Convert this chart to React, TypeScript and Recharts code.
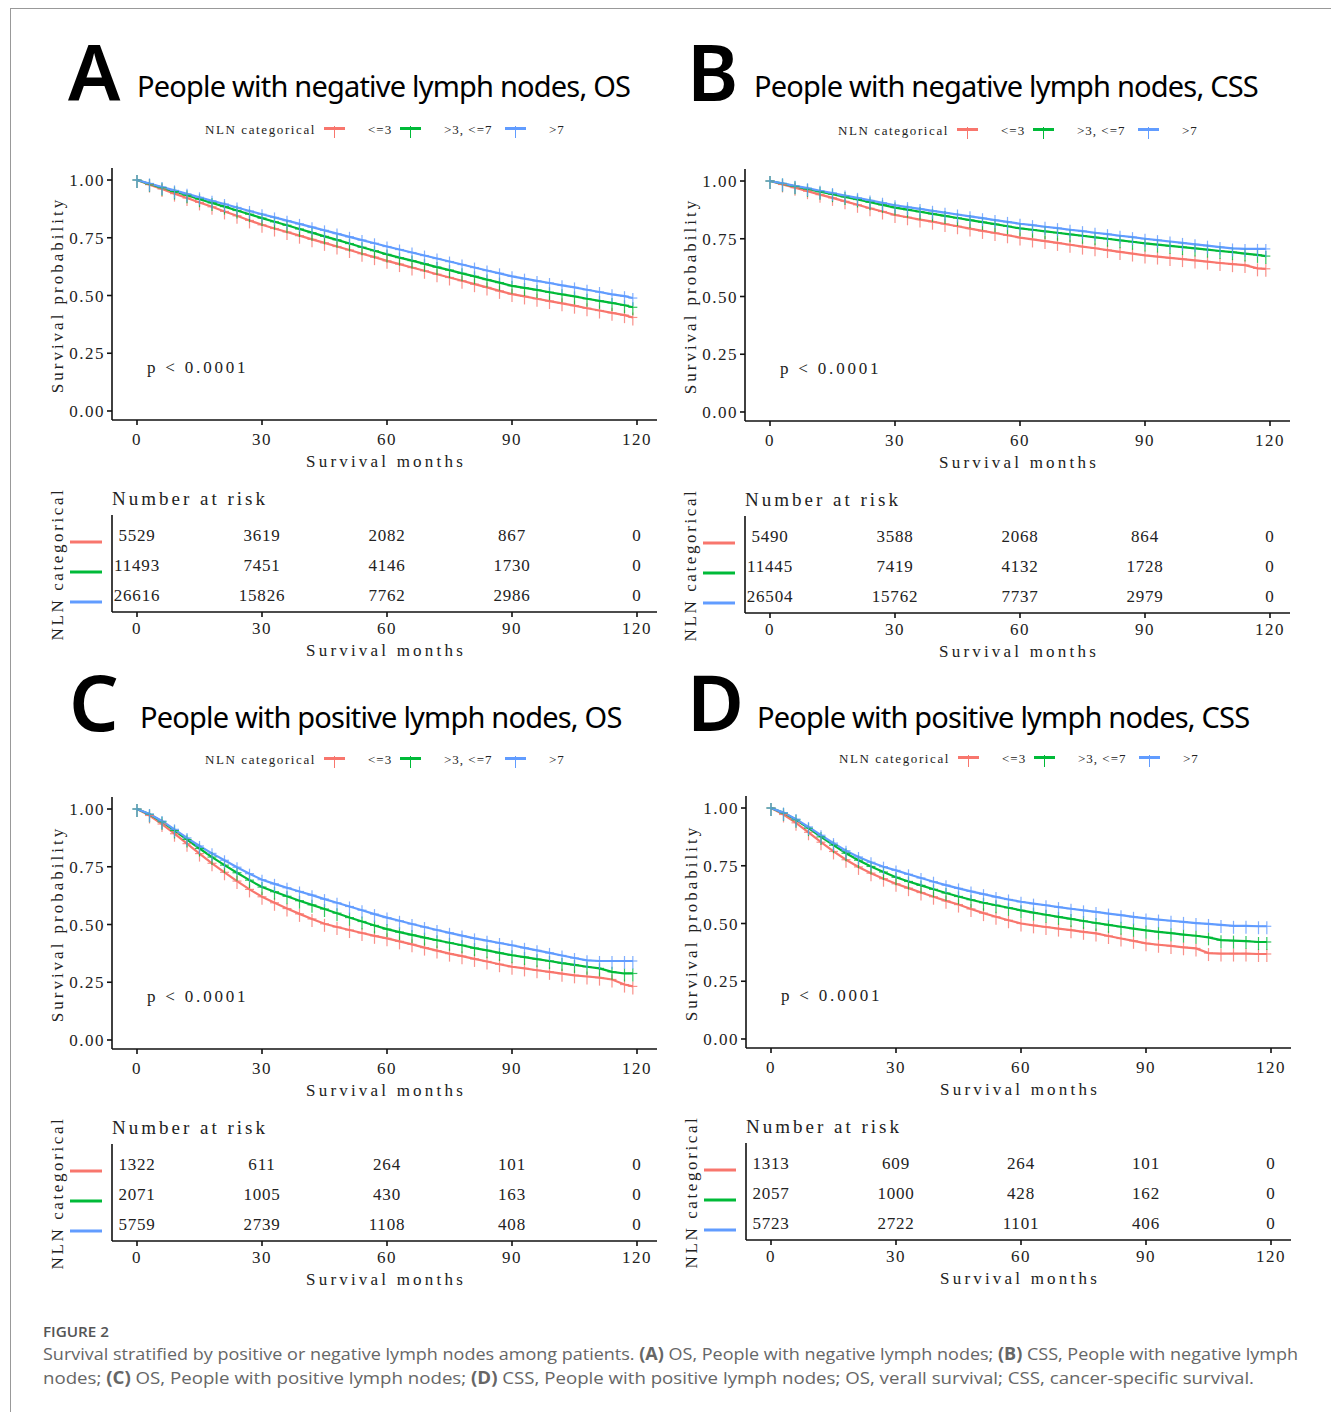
import React from 'react';
import { LineChart, Line, XAxis, YAxis, ScatterChart, Scatter } from 'recharts';

const months = [0, 3, 6, 9, 12, 15, 18, 21, 24, 27, 30, 33, 36, 39, 42, 45, 48, 51, 54, 57, 60, 63, 66, 69, 72, 75, 78, 81, 84, 87, 90, 93, 96, 99, 102, 105, 108, 111, 114, 117, 119];

const groups = ['<=3', '>3, <=7', '>7'];
const colors = ['#F8766D', '#00BA38', '#619CFF'];
const xTicks = [0, 30, 60, 90, 120];
const yTicks = [0, 0.25, 0.5, 0.75, 1];

// A: negative lymph nodes, OS
const aRed = [1.000, 0.980, 0.961, 0.941, 0.922, 0.903, 0.884, 0.864, 0.845, 0.825, 0.806, 0.790, 0.775, 0.759, 0.743, 0.728, 0.712, 0.697, 0.681, 0.666, 0.650, 0.636, 0.621, 0.607, 0.592, 0.578, 0.564, 0.549, 0.535, 0.520, 0.506, 0.496, 0.486, 0.476, 0.466, 0.456, 0.445, 0.435, 0.425, 0.415, 0.405];
const aGreen = [1.000, 0.983, 0.967, 0.950, 0.934, 0.917, 0.901, 0.885, 0.868, 0.852, 0.835, 0.819, 0.804, 0.788, 0.772, 0.756, 0.741, 0.725, 0.709, 0.694, 0.678, 0.664, 0.651, 0.637, 0.623, 0.610, 0.596, 0.583, 0.569, 0.556, 0.542, 0.533, 0.524, 0.514, 0.505, 0.496, 0.486, 0.477, 0.468, 0.458, 0.449];
const aBlue = [1.000, 0.985, 0.970, 0.955, 0.940, 0.925, 0.910, 0.896, 0.881, 0.866, 0.852, 0.838, 0.824, 0.810, 0.796, 0.782, 0.768, 0.754, 0.740, 0.726, 0.712, 0.699, 0.686, 0.673, 0.660, 0.647, 0.634, 0.621, 0.608, 0.596, 0.583, 0.573, 0.563, 0.554, 0.544, 0.535, 0.525, 0.515, 0.505, 0.497, 0.489];

// B: negative lymph nodes, CSS
const bRed = [1.000, 0.985, 0.971, 0.956, 0.941, 0.927, 0.912, 0.897, 0.882, 0.868, 0.853, 0.843, 0.833, 0.824, 0.814, 0.804, 0.794, 0.784, 0.775, 0.765, 0.755, 0.747, 0.740, 0.732, 0.724, 0.716, 0.709, 0.701, 0.693, 0.686, 0.678, 0.673, 0.667, 0.662, 0.656, 0.651, 0.645, 0.640, 0.636, 0.622, 0.620];
const bGreen = [1.000, 0.989, 0.977, 0.966, 0.954, 0.943, 0.931, 0.920, 0.908, 0.897, 0.885, 0.876, 0.867, 0.858, 0.849, 0.840, 0.831, 0.822, 0.813, 0.804, 0.795, 0.789, 0.782, 0.776, 0.769, 0.763, 0.756, 0.750, 0.743, 0.737, 0.730, 0.725, 0.719, 0.714, 0.708, 0.703, 0.697, 0.692, 0.686, 0.680, 0.675];
const bBlue = [1.000, 0.990, 0.979, 0.969, 0.958, 0.948, 0.937, 0.927, 0.916, 0.906, 0.895, 0.887, 0.879, 0.871, 0.863, 0.855, 0.847, 0.839, 0.831, 0.823, 0.815, 0.809, 0.802, 0.796, 0.789, 0.783, 0.776, 0.770, 0.763, 0.757, 0.750, 0.744, 0.738, 0.732, 0.726, 0.720, 0.714, 0.708, 0.706, 0.706, 0.706];

// C: positive lymph nodes, OS
const cRed = [1.000, 0.972, 0.935, 0.893, 0.850, 0.807, 0.765, 0.726, 0.688, 0.652, 0.620, 0.594, 0.569, 0.546, 0.524, 0.503, 0.489, 0.476, 0.463, 0.451, 0.440, 0.427, 0.414, 0.400, 0.387, 0.374, 0.363, 0.351, 0.340, 0.328, 0.317, 0.310, 0.302, 0.295, 0.287, 0.280, 0.275, 0.270, 0.262, 0.240, 0.232];
const cGreen = [1.000, 0.977, 0.945, 0.907, 0.868, 0.829, 0.792, 0.757, 0.724, 0.692, 0.662, 0.642, 0.622, 0.603, 0.585, 0.567, 0.549, 0.530, 0.513, 0.496, 0.480, 0.467, 0.455, 0.443, 0.432, 0.421, 0.410, 0.398, 0.388, 0.377, 0.367, 0.359, 0.350, 0.342, 0.333, 0.325, 0.317, 0.310, 0.295, 0.288, 0.288];
const cBlue = [1.000, 0.978, 0.948, 0.912, 0.875, 0.840, 0.808, 0.778, 0.748, 0.720, 0.694, 0.676, 0.659, 0.643, 0.627, 0.610, 0.594, 0.578, 0.562, 0.545, 0.530, 0.516, 0.502, 0.489, 0.476, 0.464, 0.452, 0.440, 0.430, 0.420, 0.410, 0.399, 0.388, 0.377, 0.366, 0.355, 0.345, 0.342, 0.342, 0.342, 0.342];

// D: positive lymph nodes, CSS
const dRed = [1.000, 0.972, 0.936, 0.895, 0.852, 0.812, 0.776, 0.745, 0.718, 0.694, 0.672, 0.653, 0.634, 0.616, 0.598, 0.582, 0.563, 0.545, 0.529, 0.514, 0.500, 0.492, 0.485, 0.478, 0.471, 0.464, 0.457, 0.446, 0.435, 0.425, 0.414, 0.408, 0.403, 0.397, 0.392, 0.372, 0.370, 0.370, 0.370, 0.368, 0.368];
const dGreen = [1.000, 0.979, 0.949, 0.913, 0.875, 0.839, 0.804, 0.774, 0.747, 0.723, 0.700, 0.682, 0.665, 0.648, 0.632, 0.617, 0.603, 0.590, 0.579, 0.568, 0.557, 0.547, 0.538, 0.529, 0.520, 0.511, 0.502, 0.494, 0.486, 0.478, 0.470, 0.464, 0.458, 0.452, 0.447, 0.440, 0.428, 0.426, 0.424, 0.420, 0.420];
const dBlue = [1.000, 0.980, 0.952, 0.918, 0.882, 0.848, 0.815, 0.788, 0.765, 0.746, 0.730, 0.713, 0.697, 0.681, 0.666, 0.652, 0.639, 0.627, 0.615, 0.604, 0.594, 0.586, 0.579, 0.571, 0.564, 0.557, 0.550, 0.543, 0.536, 0.529, 0.522, 0.517, 0.512, 0.507, 0.502, 0.498, 0.494, 0.490, 0.490, 0.488, 0.488];

// number at risk at 0/30/60/90/120 months, one row per group
const riskA = [[5529, 3619, 2082, 867, 0], [11493, 7451, 4146, 1730, 0], [26616, 15826, 7762, 2986, 0]];
const riskB = [[5490, 3588, 2068, 864, 0], [11445, 7419, 4132, 1728, 0], [26504, 15762, 7737, 2979, 0]];
const riskC = [[1322, 611, 264, 101, 0], [2071, 1005, 430, 163, 0], [5759, 2739, 1108, 408, 0]];
const riskD = [[1313, 609, 264, 101, 0], [2057, 1000, 428, 162, 0], [5723, 2722, 1101, 406, 0]];

const serif = "'Liberation Serif', 'DejaVu Serif', serif";
const sans = "'Noto Sans', 'Open Sans', sans-serif";
const ink = '#222';

const panels = [
  { id: 'A', title: 'People with negative lymph nodes, OS', dx: 0, dy: 0, lx: 68, ly: 101, tx: 137, ty: 97, legY: 134, curves: [aRed, aGreen, aBlue], risk: riskA },
  { id: 'B', title: 'People with negative lymph nodes, CSS', dx: 633, dy: 1, lx: 54, ly: 100, tx: 121, ty: 96, legY: 134, curves: [bRed, bGreen, bBlue], risk: riskB },
  { id: 'C', title: 'People with positive lymph nodes, OS', dx: 0, dy: 629, lx: 69, ly: 102, tx: 140, ty: 99, legY: 135, curves: [cRed, cGreen, cBlue], risk: riskC },
  { id: 'D', title: 'People with positive lymph nodes, CSS', dx: 634, dy: 628, lx: 53, ly: 103, tx: 123, ty: 100, legY: 135, curves: [dRed, dGreen, dBlue], risk: riskD },
];

const legendKeyX = [324, 400, 505];
const legendTextX = [368, 444, 549];

const censorDot = (color: string) => (props: any) => {
  const { cx, cy, index } = props;
  if (cx == null || cy == null) return <g key={`e${index}`} />;
  return (
    <g key={`c${index}`} stroke={color} strokeWidth={1.2} opacity={0.8}>
      <line x1={cx - 4.5} y1={cy} x2={cx + 4.5} y2={cy} />
      <line x1={cx} y1={cy - 5} x2={cx} y2={cy + 8} />
    </g>
  );
};

const riskTick = (props: any) => {
  const { x, y, payload } = props;
  return <line x1={x - 42} x2={x - 10} y1={y + 7} y2={y + 7} stroke={colors[payload.value]} strokeWidth={3} />;
};

const riskNumber = (props: any) => {
  const { cx, cy, payload } = props;
  return (
    <text x={cx} y={cy} dy="0.35em" textAnchor="middle" fontFamily={serif} fontSize={17} letterSpacing={0.8} fill={ink}>
      {payload.n}
    </text>
  );
};

const axisTick = { fontSize: 17, fill: ink, fontFamily: serif, letterSpacing: 1.5 };

const Panel = ({ cfg }: { cfg: any }) => {
  const data = months.map((t, i) => ({ t, s0: cfg.curves[0][i], s1: cfg.curves[1][i], s2: cfg.curves[2][i] }));
  const riskPts = cfg.risk.flatMap((row: number[], r: number) => row.map((n, j) => ({ t: xTicks[j], row: r, n })));

  return (
    <div style={{ position: 'absolute', left: cfg.dx, top: cfg.dy, width: 665, height: 670 }}>
      <svg width={665} height={670} style={{ position: 'absolute', left: 0, top: 0 }}>
        <text x={cfg.lx} y={cfg.ly} fontFamily={sans} fontWeight={600} fontSize={78} fill="#000">{cfg.id}</text>
        <text x={cfg.tx} y={cfg.ty} fontFamily={sans} fontSize={29} letterSpacing={-0.8} fill="#000">{cfg.title}</text>

        <g fontFamily={serif} fontSize={13} fill={ink}>
          <text x={205} y={cfg.legY} letterSpacing={1.6}>NLN categorical</text>
          {groups.map((g, i) => (
            <g key={g}>
              <line x1={legendKeyX[i]} x2={legendKeyX[i] + 21} y1={cfg.legY - 5.5} y2={cfg.legY - 5.5} stroke={colors[i]} strokeWidth={3} />
              <line x1={legendKeyX[i] + 10.5} x2={legendKeyX[i] + 10.5} y1={cfg.legY - 8} y2={cfg.legY + 4} stroke={colors[i]} strokeWidth={1} />
              <text x={legendTextX[i]} y={cfg.legY} letterSpacing={1}>{g}</text>
            </g>
          ))}
        </g>

        <g fontFamily={serif} fill={ink}>
          <text x={63} y={295} fontSize={17} letterSpacing={3} textAnchor="middle" transform="rotate(-90 63 295)">Survival probability</text>
          <text x={386} y={467} fontSize={17} letterSpacing={3.2} textAnchor="middle">Survival months</text>
          <text x={147} y={373} fontSize={17} letterSpacing={2.8}>p &lt; 0.0001</text>
          <text x={112} y={505} fontSize={19} letterSpacing={3}>Number at risk</text>
          <text x={63} y={564} fontSize={17} letterSpacing={2.6} textAnchor="middle" transform="rotate(-90 63 564)">NLN categorical</text>
          <text x={386} y={656} fontSize={17} letterSpacing={3.2} textAnchor="middle">Survival months</text>
        </g>
      </svg>

      <div style={{ position: 'absolute', left: 0, top: 0 }}>
        <LineChart width={665} height={480} data={data} margin={{ top: 168, right: 8, bottom: 30, left: 62 }}>
          <XAxis type="number" dataKey="t" domain={[-6, 124.8]} ticks={xTicks} allowDataOverflow
            height={30} tickSize={5} tickMargin={8} tick={axisTick}
            axisLine={{ stroke: '#111', strokeWidth: 1.6 }} tickLine={{ stroke: '#111', strokeWidth: 1.6 }} />
          <YAxis type="number" domain={[-0.039, 1.052]} ticks={yTicks} allowDataOverflow width={50}
            tickSize={5} tickMargin={2} tick={axisTick} tickFormatter={(v: number) => v.toFixed(2)}
            axisLine={{ stroke: '#111', strokeWidth: 1.6 }} tickLine={{ stroke: '#111', strokeWidth: 1.6 }} />
          {[0, 1, 2].map((k) => (
            <Line key={k} type="linear" dataKey={`s${k}`} name={groups[k]} stroke={colors[k]} strokeWidth={2.2}
              dot={censorDot(colors[k])} activeDot={false} isAnimationActive={false} />
          ))}
        </LineChart>
      </div>

      <div style={{ position: 'absolute', left: 0, top: 500 }}>
        <ScatterChart width={665} height={170} margin={{ top: 15, right: 8, bottom: 28, left: 62 }}>
          <XAxis type="number" dataKey="t" domain={[-6, 124.8]} ticks={xTicks} allowDataOverflow
            height={30} tickSize={5} tickMargin={5} tick={axisTick}
            axisLine={{ stroke: '#111', strokeWidth: 1.6 }} tickLine={{ stroke: '#111', strokeWidth: 1.6 }} />
          <YAxis type="number" dataKey="row" domain={[-0.667, 2.567]} reversed allowDataOverflow ticks={[0, 1, 2]}
            width={50} tickSize={0} tickMargin={0} tickLine={false} tick={riskTick}
            axisLine={{ stroke: '#111', strokeWidth: 1.6 }} />
          <Scatter data={riskPts} shape={riskNumber} isAnimationActive={false} />
        </ScatterChart>
      </div>
    </div>
  );
};

export default function App() {
  return (
    <div style={{ position: 'absolute', left: 0, top: 0, width: 1331, height: 1412, background: '#fff', overflow: 'hidden' }}>
      <svg width={1331} height={1412} style={{ position: 'absolute', left: 0, top: 0 }}>
        <line x1={10} x2={1331} y1={8.5} y2={8.5} stroke="#999" strokeWidth={1} />
        <line x1={10.5} x2={10.5} y1={8} y2={1412} stroke="#999" strokeWidth={1} />
        <text x={43} y={1337} fontFamily="'Open Sans', sans-serif" fontWeight={600} fontSize={14} fill="#555" textLength={66} lengthAdjust="spacingAndGlyphs">FIGURE 2</text>
        <text x={43} y={1360} fontFamily="'Open Sans', sans-serif" fontSize={17} fill="#666" textLength={1255} lengthAdjust="spacingAndGlyphs">
          Survival stratified by positive or negative lymph nodes among patients. <tspan fontWeight={700}>(A)</tspan> OS, People with negative lymph nodes; <tspan fontWeight={700}>(B)</tspan> CSS, People with negative lymph
        </text>
        <text x={43} y={1384} fontFamily="'Open Sans', sans-serif" fontSize={17} fill="#666" textLength={1211} lengthAdjust="spacingAndGlyphs">
          nodes; <tspan fontWeight={700}>(C)</tspan> OS, People with positive lymph nodes; <tspan fontWeight={700}>(D)</tspan> CSS, People with positive lymph nodes; OS, verall survival; CSS, cancer-specific survival.
        </text>
      </svg>
      {panels.map((p) => <Panel key={p.id} cfg={p} />)}
    </div>
  );
}
